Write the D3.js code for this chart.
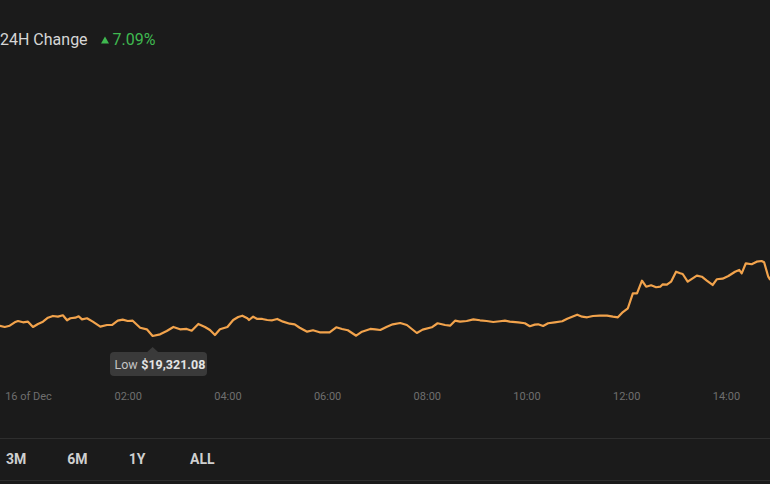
<!DOCTYPE html>
<html>
<head>
<meta charset="utf-8">
<script src="https://cdn.jsdelivr.net/npm/d3@7/dist/d3.min.js"></script>
<style>
  html, body { margin: 0; padding: 0; background: #1b1b1b; overflow: hidden; }
  svg { display: block; }
</style>
</head>
<body>
<svg id="chart" width="770" height="484"></svg>
<script>
// ---- data (minutes after 00:00 on 16 Dec, price in USD) ----
const minutes = [-34,-28,-22,-16,-12,-6,0,6,12,18,24,30,36,42,47,51,57,61,65,71,78,87,95,101,108,114,120,126,135,143,150,159,167,175,183,191,197,205,213,219,225,231,240,247,253,258,264,266,271,276,282,288,294,300,307,315,321,327,336,343,351,363,371,378,385,395,402,412,418,424,432,439,448,456,468,475,486,493,502,508,514,520,528,536,544,552,560,568,574,580,590,598,604,610,614,620,626,634,643,649,655,661,667,673,680,688,697,704,710,716,722,728,733,739,744,750,756,761,764,769,774,780,785,788,794,800,805,811,817,824,829,836,843,851,856,859,864,871,877,883,886,891,893,900];
const prices = [19469,19451,19469,19518,19537,19518,19527,19451,19494,19527,19584,19609,19599,19619,19547,19576,19584,19604,19561,19576,19527,19455,19479,19479,19541,19556,19537,19541,19440,19417,19321.08,19345,19393,19451,19417,19422,19397,19494,19451,19407,19335,19417,19451,19551,19594,19613,19576,19551,19599,19566,19566,19551,19547,19566,19527,19498,19489,19440,19383,19403,19374,19374,19446,19422,19403,19325,19383,19422,19417,19407,19455,19489,19508,19479,19364,19412,19446,19504,19479,19469,19541,19527,19537,19561,19547,19537,19522,19533,19541,19527,19518,19504,19461,19484,19489,19465,19504,19518,19533,19570,19599,19628,19599,19590,19609,19613,19613,19599,19590,19666,19720,19935,19935,20117,20030,20051,20022,20030,20065,20059,20102,20246,20223,20213,20102,20151,20189,20174,20117,20055,20137,20146,20184,20246,20271,20223,20367,20353,20390,20400,20382,20174,20137,20100];
const tickHours = [0, 2, 4, 6, 8, 10, 12, 14];
const tickLabels = ["16 of Dec", "02:00", "04:00", "06:00", "08:00", "10:00", "12:00", "14:00"];
const changeLabel = "24H Change";
const changeValue = "7.09%";
const lowLabel = "Low";
const lowValue = "$19,321.08";
const lowMinute = 150;
const lowPrice = 19321.08;
const ranges = ["3M", "6M", "1Y", "ALL"];

// ---- drawing ----
const svg = d3.select("#chart");
const W = 770, H = 484;
const FONT = "Roboto, 'Open Sans', sans-serif";

svg.append("rect").attr("width", W).attr("height", H).attr("fill", "#1b1b1b");

const x = d3.scaleLinear().domain([0, 15 * 60]).range([28, 28 + 15 * 49.85]);
const y = d3.scaleLinear().domain([19000, 21000]).range([358.3, 219.3]);

const data = minutes.map((m, i) => ({ m, p: prices[i] }));

svg.append("defs").append("clipPath").attr("id", "clip")
  .append("rect").attr("x", 0).attr("y", 0).attr("width", W).attr("height", 420);

// header
const header = svg.append("g");
header.append("text")
  .attr("x", 0).attr("y", 44.5)
  .attr("font-family", FONT).attr("font-size", 16)
  .attr("fill", "#d6d6d6")
  .text(changeLabel);
header.append("path")
  .attr("d", "M101,43.5 L109,43.5 L105,36.5 Z")
  .attr("fill", "#3fb950");
header.append("text")
  .attr("x", 112.5).attr("y", 44.5)
  .attr("font-family", FONT).attr("font-size", 16)
  .attr("fill", "#3fb950")
  .text(changeValue);

// line
const line = d3.line().x(d => x(d.m)).y(d => y(d.p)).curve(d3.curveLinear);
svg.append("path")
  .datum(data)
  .attr("clip-path", "url(#clip)")
  .attr("d", line)
  .attr("fill", "none")
  .attr("stroke", "#f2a34c")
  .attr("stroke-width", 2.2)
  .attr("stroke-linejoin", "round")
  .attr("stroke-linecap", "round");

// low tooltip
const lx = x(lowMinute), ly = y(lowPrice);
const tip = svg.append("g");
const boxX = 110, boxY = 352, boxW = 97, boxH = 24;
tip.append("rect")
  .attr("x", boxX).attr("y", boxY).attr("width", boxW).attr("height", boxH)
  .attr("rx", 4).attr("fill", "#3a3a3a");
tip.append("path")
  .attr("d", `M${lx - 6},${boxY + 0.5} L${lx},${ly + 11} L${lx + 6},${boxY + 0.5} Z`)
  .attr("fill", "#3a3a3a");
const tt = tip.append("text")
  .attr("x", boxX + 4.5).attr("y", 368.5)
  .attr("font-family", FONT).attr("font-size", 12.5);
tt.append("tspan").attr("fill", "#c4c4c4").text(lowLabel);
tt.append("tspan").attr("dx", 3.5).attr("fill", "#e4e4e4").attr("font-weight", "bold").text(lowValue);

// x axis
const xAxis = d3.axisBottom(x)
  .tickValues(tickHours.map(h => h * 60))
  .tickFormat((d, i) => tickLabels[i])
  .tickSize(0).tickPadding(0);
const gx = svg.append("g").attr("transform", "translate(0,392)").call(xAxis);
gx.select(".domain").remove();
gx.selectAll("text")
  .attr("font-family", FONT).attr("font-size", 11)
  .attr("fill", "#6f6f6f");

// bottom range bar
svg.append("line").attr("x1", 0).attr("x2", W).attr("y1", 438.5).attr("y2", 438.5)
  .attr("stroke", "#2e2e2e").attr("stroke-width", 1);
svg.append("line").attr("x1", 0).attr("x2", W).attr("y1", 480.5).attr("y2", 480.5)
  .attr("stroke", "#2e2e2e").attr("stroke-width", 1);
const rx = d3.scalePoint().domain(ranges).range([6, 190]);
svg.append("g").selectAll("text").data(ranges).join("text")
  .attr("x", d => rx(d)).attr("y", 463.5)
  .attr("font-family", FONT).attr("font-size", 14).attr("font-weight", "bold")
  .attr("fill", "#cfcfcf")
  .text(d => d);
</script>
</body>
</html>
